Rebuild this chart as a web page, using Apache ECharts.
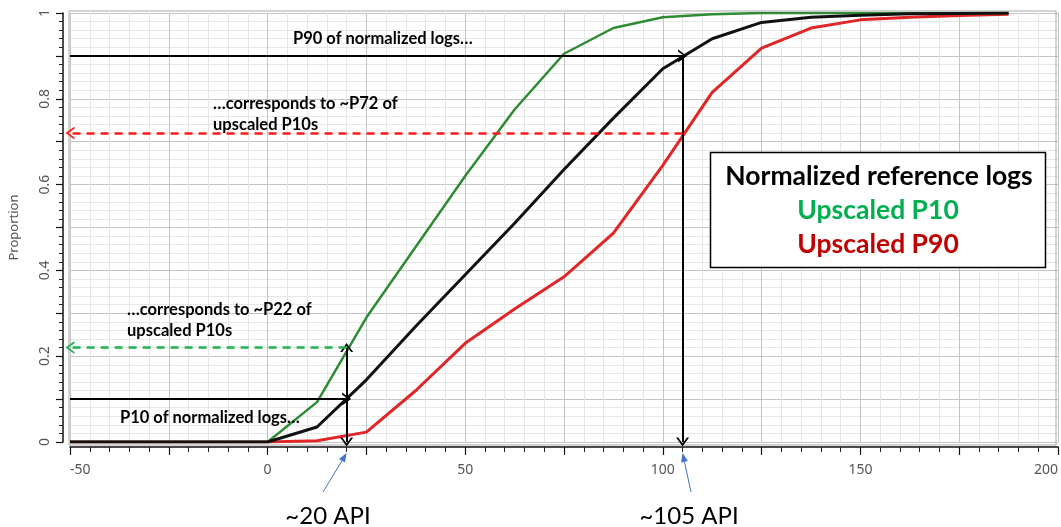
<!DOCTYPE html>
<html>
<head>
<meta charset="utf-8">
<script src="https://cdn.jsdelivr.net/npm/echarts@6/dist/echarts.min.js"></script>
<style>
  html, body { margin: 0; padding: 0; background: #fff; }
  #chart { width: 1061px; height: 527px; }
</style>
</head>
<body>
<div id="chart"></div>
<script>
// gamma-ray (API) values where each cumulative curve is sampled
const apiValues = [-50, 0, 12.5, 25, 37.5, 50, 62.5, 75, 87.5, 100, 112.5, 125, 137.5, 150, 162.5, 175, 187.5];
const normalizedLogs = [0, 0, 0.035, 0.145, 0.27, 0.39, 0.51, 0.635, 0.755, 0.87, 0.94, 0.978, 0.99, 0.995, 0.998, 0.999, 1.0];
const upscaledP10 = [0, 0, 0.093, 0.29, 0.455, 0.62, 0.775, 0.905, 0.965, 0.99, 0.997, 1.0, 1.0, 1.0, 1.0, 1.0, 1.0];
const upscaledP90 = [0, 0, 0.003, 0.023, 0.12, 0.23, 0.31, 0.385, 0.487, 0.645, 0.815, 0.918, 0.965, 0.984, 0.99, 0.994, 0.997];

// read-offs shown by the arrows
const lowApi = 20, lowRef = 0.1, lowUp = 0.22;
const highApi = 105, highRef = 0.9, highUp = 0.72;

const pair = ys => apiValues.map((x, i) => [x, ys[i]]);
const chevron = 'path://M5,0 L10,8 L8.4,8 L5,2.6 L1.6,8 L0,8 Z';

const chart = echarts.init(document.getElementById('chart'));

function arrowLine(from, to, color, type, both) {
    return [
        { coord: from, symbol: both ? chevron : 'none', symbolSize: [13, 9],
          lineStyle: { color: color, width: type === 'solid' ? 2 : 2.5, type: type } },
        { coord: to, symbol: chevron, symbolSize: [13, 9] }
    ];
}

const option = {
    animation: false,
    backgroundColor: '#fff',
    grid: { left: 70, right: 1, top: 13, bottom: 85 },
    xAxis: {
        type: 'value',
        min: -50, max: 200, interval: 25,
        offset: 5,
        axisLine: { onZero: false, lineStyle: { color: '#111', width: 1.5 } },
        axisTick: { length: 8, lineStyle: { color: '#111', width: 1.2 } },
        minorTick: { show: true, splitNumber: 5, length: 5, lineStyle: { color: '#222' } },
        axisLabel: {
            color: '#555', fontFamily: 'Noto Sans', fontSize: 14, margin: 16,
            alignMinLabel: 'left', alignMaxLabel: 'right',
            formatter: v => (v % 50 === 0 ? String(v) : '')
        },
        splitLine: { lineStyle: { color: '#c4c4c4', width: 1 } },
        minorSplitLine: { show: true, lineStyle: { color: '#e6e6e6', width: 1 } }
    },
    yAxis: {
        type: 'value',
        min: 0, max: 1, interval: 0.1,
        offset: 7,
        name: 'Proportion',
        nameLocation: 'middle',
        nameGap: 42,
        nameTextStyle: { color: '#555', fontFamily: 'Noto Sans', fontSize: 13 },
        axisLine: { show: true, onZero: false, lineStyle: { color: '#111', width: 1.5 } },
        axisTick: { show: true, length: 7, lineStyle: { color: '#111', width: 1.2 } },
        minorTick: { show: true, splitNumber: 5, length: 4, lineStyle: { color: '#222' } },
        axisLabel: {
            color: '#555', fontFamily: 'Noto Sans', fontSize: 14, rotate: 90, margin: 11,
            formatter: v => (Math.round(v * 10) % 2 === 0 ? String(+v.toFixed(1)) : '')
        },
        splitLine: { lineStyle: { color: '#c4c4c4', width: 1 } },
        minorSplitLine: { show: true, lineStyle: { color: '#e6e6e6', width: 1 } }
    },
    series: [
        {
            name: 'Upscaled P90', type: 'line', data: pair(upscaledP90),
            showSymbol: false, lineStyle: { color: '#e02626', width: 3 }, z: 3
        },
        {
            name: 'Upscaled P10', type: 'line', data: pair(upscaledP10),
            showSymbol: false, lineStyle: { color: '#2e8b34', width: 2.5 }, z: 3
        },
        {
            name: 'Normalized reference logs', type: 'line', data: pair(normalizedLogs),
            showSymbol: false, lineStyle: { color: '#111', width: 3 }, z: 4
        },
        {
            name: 'arrows', type: 'line', data: [], clip: false, silent: true, z: 5,
            markLine: {
                silent: true, animation: false,
                label: { show: false },
                emphasis: { disabled: true },
                data: [
                    arrowLine([-50, highRef], [highApi, highRef], '#000', 'solid'),
                    arrowLine([highApi, highRef], [highApi, 0], '#000', 'solid'),
                    arrowLine([highApi, highUp], [-50, highUp], '#ff1a1a', [8, 6]),
                    arrowLine([-50, lowRef], [lowApi, lowRef], '#000', 'solid'),
                    arrowLine([lowApi, lowUp], [lowApi, 0], '#000', 'solid', true),
                    arrowLine([lowApi, lowUp], [-50, lowUp], '#1db34d', [8, 6])
                ]
            }
        }
    ]
};
chart.setOption(option);

// callouts, legend box and the blue pointers under the axis
const bold = 'bold 16.5px Lato';
const big = 'bold 26.5px Lato';
function note(text, x, y, font, fill, align) {
    return { type: 'text', x: x, y: y, z: 10,
             style: { text: text, font: font, fill: fill || '#000', align: align || 'left', verticalAlign: 'middle' } };
}
function pointer(fromX, fromY, api) {
    const tip = chart.convertToPixel({ gridIndex: 0 }, [api, 0]);
    const tx = tip[0], ty = tip[1] + 11;
    const dx = tx - fromX, dy = ty - fromY, len = Math.sqrt(dx * dx + dy * dy);
    const ux = dx / len, uy = dy / len, L = 9, W = 3.5;
    const bx = tx - ux * L, by = ty - uy * L;
    return [
        { type: 'line', z: 10, shape: { x1: fromX, y1: fromY, x2: bx, y2: by },
          style: { stroke: '#4472c4', lineWidth: 1 } },
        { type: 'polygon', z: 10,
          shape: { points: [[tx, ty], [bx - uy * W, by + ux * W], [bx + uy * W, by - ux * W]] },
          style: { fill: '#4472c4' } }
    ];
}

chart.setOption({
    graphic: [
        { type: 'rect', z: 1, shape: { x: 69, y: 11, width: 987, height: 434 },
          style: { fill: 'none', stroke: '#a8a8a8', lineWidth: 1 } },
        note('P90 of normalized logs\u2026', 293, 39, bold),
        note('\u2026corresponds to ~P72 of', 213, 104, bold),
        note('upscaled P10s', 213, 125, bold),
        note('\u2026corresponds to ~P22 of', 127, 310, bold),
        note('upscaled P10s', 127, 331, bold),
        note('P10 of normalized logs\u2026', 120, 418, bold),
        { type: 'rect', z: 10, shape: { x: 710.5, y: 152.5, width: 335, height: 115 },
          style: { fill: '#fff', stroke: '#000', lineWidth: 1.5 } },
        note('Normalized reference logs', 879, 176, big, '#000', 'center'),
        note('Upscaled P10', 878, 210, big, '#00b050', 'center'),
        note('Upscaled P90', 878, 244, big, '#c00000', 'center'),
        note('~20 API', 328, 516, '24px Lato', '#000', 'center'),
        note('~105 API', 689, 516, '24px Lato', '#000', 'center')
    ].concat(pointer(323, 492, lowApi), pointer(691, 492, highApi))
});
</script>
</body>
</html>
